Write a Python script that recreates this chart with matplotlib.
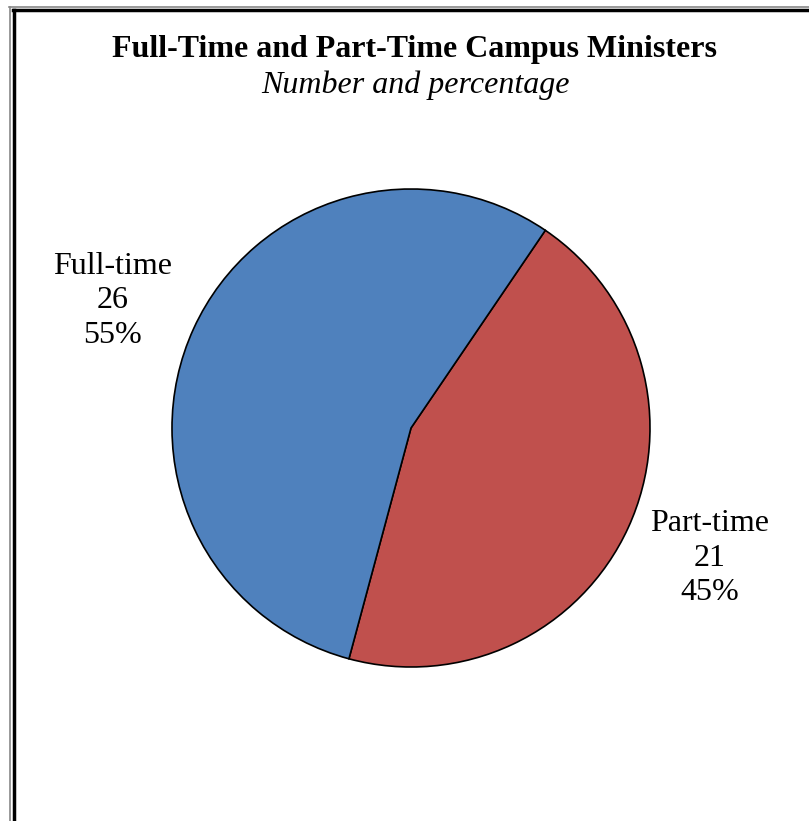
import matplotlib
matplotlib.use("Agg")
import matplotlib.pyplot as plt
from matplotlib.lines import Line2D

# Données
labels = ["Part-time", "Full-time"]
counts = [21, 26]
colors = ["#C0504D", "#4F81BD"]

plt.rcParams["font.family"] = ["Liberation Serif", "DejaVu Serif"]

W, H = 809, 821
fig = plt.figure(figsize=(W / 100, H / 100), dpi=100)

# Cadre double (gauche + haut)
fig.add_artist(Line2D([9.5 / W, 9.5 / W], [0, 1 - 7 / H], color="#888888", lw=1.2, transform=fig.transFigure))
fig.add_artist(Line2D([9 / W, 1], [1 - 7 / H, 1 - 7 / H], color="#888888", lw=1.2, transform=fig.transFigure))
fig.add_artist(Line2D([14 / W, 14 / W], [0, 1 - 10 / H], color="black", lw=2.5, transform=fig.transFigure))
fig.add_artist(Line2D([13 / W, 1], [1 - 10 / H, 1 - 10 / H], color="black", lw=2.5, transform=fig.transFigure))

fig.text(415 / W, 1 - 49 / H, "Full-Time and Part-Time Campus Ministers",
         ha="center", va="center", fontsize=23, fontweight="bold")
fig.text(415 / W, 1 - 85 / H, "Number and percentage",
         ha="center", va="center", fontsize=23, style="italic")

# Camembert : centre (411, 428), rayon 239 px
r = 239
ax = fig.add_axes([(411 - r) / W, 1 - (428 + r) / H, 2 * r / W, 2 * r / H])
total = sum(counts)
ax.pie(counts, colors=colors, startangle=55.8, counterclock=False,
       wedgeprops=dict(edgecolor="black", linewidth=1.2))
ax.set_xlim(-1, 1)
ax.set_ylim(-1, 1)
ax.set_aspect("equal")
ax.axis("off")

# Étiquettes
pos = {"Full-time": (113, 301), "Part-time": (710, 558)}
for lab, n in zip(labels, counts):
    x, y = pos[lab]
    fig.text(x / W, 1 - y / H, f"{lab}\n{n}\n{round(100 * n / total)}%",
             ha="center", va="center", fontsize=23, linespacing=1.25)

fig.savefig("out.png", dpi=100)
